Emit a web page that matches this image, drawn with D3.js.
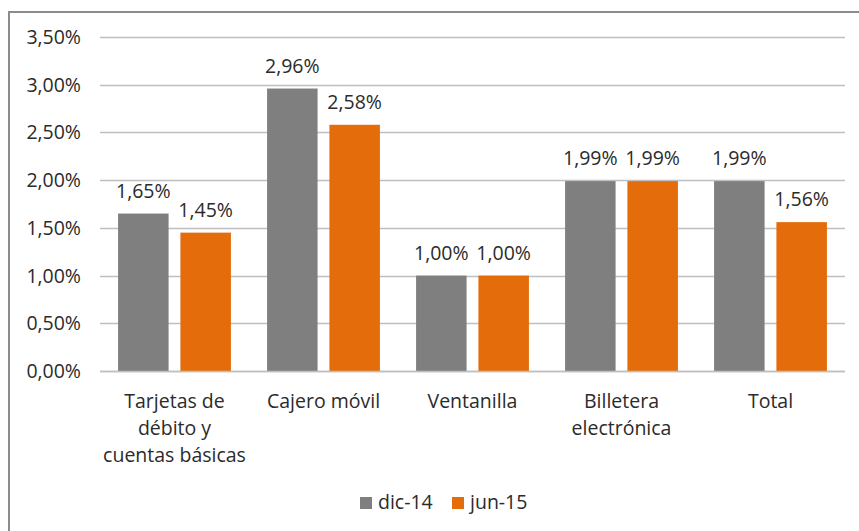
<!DOCTYPE html>
<html>
<head>
<meta charset="utf-8">
<script src="https://cdn.jsdelivr.net/npm/d3@7"></script>
<style>
  body { margin: 0; background: #fff; }
  svg { display: block; font-family: "Open Sans", Lato, sans-serif; }
</style>
</head>
<body>
<div id="chart"></div>
<script>
// chart data
var categories = [["Tarjetas de", "débito y", "cuentas básicas"], ["Cajero móvil"], ["Ventanilla"], ["Billetera", "electrónica"], ["Total"]];
var seriesNames = ["dic-14", "jun-15"];
var dic14 = [1.65, 2.96, 1.00, 1.99, 1.99];
var jun15 = [1.45, 2.58, 1.00, 1.99, 1.56];
var yTicks = [0, 0.5, 1, 1.5, 2, 2.5, 3, 3.5];
var colors = ["#7f7f7f", "#e46c0a"];

var width = 859, height = 531;
var margin = {top: 37, right: 14, bottom: 159, left: 100};
var textColor = "#2b2b2b";
var fontSize = "19.5px";

var svg = d3.select("#chart").append("svg")
    .attr("width", width)
    .attr("height", height);

//outer frame (right and bottom run off the picture)
svg.append("rect")
    .attr("x", 9).attr("y", 12)
    .attr("width", 900).attr("height", 600)
    .attr("fill", "none")
    .attr("stroke", "#8c8c8c")
    .attr("stroke-width", 2);

var fmt = function(v) { return v.toFixed(2).replace(".", ",") + "%"; };

//scales
var x0 = d3.scaleBand()
    .domain(d3.range(categories.length))
    .range([margin.left, width - margin.right])
    .padding(0);

var x1 = d3.scaleBand()
    .domain([0, 1])
    .range([0, x0.bandwidth()])
    .paddingInner(0.19)
    .paddingOuter(0.29);

var y = d3.scaleLinear()
    .domain([0, 3.5])
    .range([height - margin.bottom - 1, margin.top]);

//gridlines
svg.append("g")
    .selectAll("line")
    .data(yTicks)
    .enter().append("line")
    .attr("x1", margin.left)
    .attr("x2", width - margin.right)
    .attr("y1", function(d) { return Math.round(y(d)) + 0.5; })
    .attr("y2", function(d) { return Math.round(y(d)) + 0.5; })
    .attr("stroke", "#bfbfbf")
    .attr("stroke-width", 1.3);

//y axis labels
svg.append("g")
    .selectAll("text")
    .data(yTicks)
    .enter().append("text")
    .attr("x", margin.left - 19)
    .attr("y", function(d) { return y(d); })
    .attr("dy", "0.36em")
    .attr("text-anchor", "end")
    .attr("fill", textColor)
    .style("font-size", fontSize)
    .text(fmt);

//bars
var series = [dic14, jun15];
var groups = svg.append("g")
    .selectAll("g")
    .data(series)
    .enter().append("g")
    .attr("fill", function(d, i) { return colors[i]; });

groups.each(function(vals, s) {
    var g = d3.select(this);
    g.selectAll("rect")
        .data(vals)
        .enter().append("rect")
        .attr("x", function(d, i) { return x0(i) + x1(s); })
        .attr("y", function(d) { return y(d); })
        .attr("width", x1.bandwidth())
        .attr("height", function(d) { return y(0) - y(d); });

    g.selectAll("text")
        .data(vals)
        .enter().append("text")
        .attr("x", function(d, i) { return x0(i) + x1(s) + x1.bandwidth() / 2; })
        .attr("y", function(d) { return y(d) - 16; })
        .attr("text-anchor", "middle")
        .attr("fill", textColor)
        .style("font-size", fontSize)
        .text(fmt);
});

//baseline
svg.append("line")
    .attr("x1", margin.left)
    .attr("x2", width - margin.right)
    .attr("y1", Math.round(y(0)) + 0.5)
    .attr("y2", Math.round(y(0)) + 0.5)
    .attr("stroke", "#bfbfbf")
    .attr("stroke-width", 1.3);

//category labels
var catLabels = svg.append("g")
    .selectAll("text")
    .data(categories)
    .enter().append("text")
    .attr("x", function(d, i) { return x0(i) + x0.bandwidth() / 2; })
    .attr("y", 408)
    .attr("text-anchor", "middle")
    .attr("fill", textColor)
    .style("font-size", fontSize);

catLabels.selectAll("tspan")
    .data(function(d) { return d; })
    .enter().append("tspan")
    .attr("x", function() { return d3.select(this.parentNode).attr("x"); })
    .attr("dy", function(d, i) { return i == 0 ? 0 : 27; })
    .text(function(d) { return d; });

//legend
var legendX = [360, 452];
var legend = svg.append("g")
    .selectAll("g")
    .data(seriesNames)
    .enter().append("g")
    .attr("transform", function(d, i) { return "translate(" + legendX[i] + ",497)"; });

legend.append("rect")
    .attr("width", 12)
    .attr("height", 12)
    .attr("fill", function(d, i) { return colors[i]; });

legend.append("text")
    .attr("x", 18)
    .attr("y", 12)
    .attr("fill", textColor)
    .style("font-size", fontSize)
    .text(function(d) { return d; });
</script>
</body>
</html>
